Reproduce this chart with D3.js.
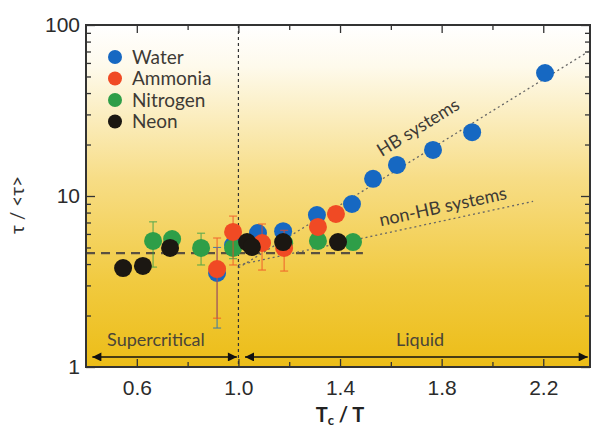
<!DOCTYPE html>
<html>
<head>
<meta charset="utf-8">
<script src="https://cdn.jsdelivr.net/npm/d3@7"></script>
<style>
  html, body { margin: 0; padding: 0; background: #fff; }
  svg { display: block; font-family: Lato, "Open Sans", sans-serif; }
</style>
</head>
<body>
<svg id="chart" width="594" height="430"></svg>
<script>
// Relaxation time ratio vs reduced inverse temperature
const seriesNames = ["Water", "Ammonia", "Nitrogen", "Neon"];
const seriesColors = ["#1668c2", "#f04a24", "#2e9e48", "#1b1712"];

const waterX   = [0.916, 0.979, 1.077, 1.176, 1.309, 1.447, 1.53, 1.624, 1.766, 1.92, 2.207];
const waterY   = [3.55, 5.17, 6.07, 6.23, 7.74, 8.98, 12.6, 15.2, 18.6, 23.6, 52.4];
const waterLo  = [1.69, 4.6, 5.6, 5.7, null, null, null, null, null, null, null];
const waterHi  = [5.0, 5.8, 6.6, 6.8, null, null, null, null, null, null, null];

const ammoniaX  = [0.916, 0.979, 1.093, 1.18, 1.313, 1.384];
const ammoniaY  = [3.74, 6.16, 5.31, 4.97, 6.59, 7.86];
const ammoniaLo = [1.93, 3.95, 3.69, 3.64, 6.2, 7.2];
const ammoniaHi = [5.68, 7.63, 6.86, 6.3, 7.0, 8.5];

const nitrogenX  = [0.664, 0.739, 0.853, 0.979, 1.18, 1.313, 1.451];
const nitrogenY  = [5.46, 5.6, 4.97, 4.97, 5.3, 5.46, 5.38];
const nitrogenLo = [3.84, 5.2, 3.95, 4.3, null, null, null];
const nitrogenHi = [7.06, 6.0, 6.06, 5.6, null, null, null];

const neonX  = [0.546, 0.624, 0.731, 1.034, 1.053, 1.176, 1.392];
const neonY  = [3.79, 3.9, 4.97, 5.38, 5.04, 5.38, 5.38];
const neonLo = [3.5, 3.55, 4.6, null, null, 5.0, null];
const neonHi = [4.1, 4.25, 5.35, null, null, 5.8, null];

const xTickValues = [0.6, 1.0, 1.4, 1.8, 2.2];
const xTickLabels = ["0.6", "1.0", "1.4", "1.8", "2.2"];
const yTickValues = [1, 10, 100];

// Reference lines (data units)
const hbLine    = [[1.0, 3.8], [2.385, 71]];
const nonHbLine = [[1.0, 3.95], [2.16, 9.3]];
const meanLevel = 4.64;
const meanExtent = [0.4, 1.49];
const criticalX = 1.0;
const superRange = [0.425, 0.994];
const liquidRange = [1.026, 2.375];
const arrowLevel = 1.145;

const svg = d3.select("#chart");
const margin = { left: 86, top: 25, right: 4, bottom: 63 };
const W = 594, H = 430;
const x = d3.scaleLinear().domain([0.4, 2.384]).range([margin.left, W - margin.right]);
const y = d3.scaleLog().domain([1, 100]).range([H - margin.bottom, margin.top]);

const defs = svg.append("defs");
const grad = defs.append("linearGradient").attr("id", "bg")
  .attr("x1", 0).attr("y1", 0).attr("x2", 0).attr("y2", 1);
[["0%", "#ffffff"], ["12%", "#fefaec"], ["45%", "#f7dd86"], ["75%", "#f1ca40"], ["100%", "#ecbd17"]]
  .forEach(([o, c]) => grad.append("stop").attr("offset", o).attr("stop-color", c));

defs.append("marker").attr("id", "arrow").attr("viewBox", "0 0 10 10")
  .attr("refX", 10).attr("refY", 5).attr("markerWidth", 13).attr("markerHeight", 9)
  .attr("markerUnits", "userSpaceOnUse").attr("orient", "auto-start-reverse")
  .append("path").attr("d", "M0,0 L10,5 L0,10 Z").attr("fill", "#111");

const x0 = x.range()[0], x1 = x.range()[1];
const y0 = y.range()[0], y1 = y.range()[1];

svg.append("rect").attr("x", x0).attr("y", y1).attr("width", x1 - x0).attr("height", y0 - y1)
  .attr("fill", "url(#bg)");

// Axes: ticks point into the plot
const minorY = [];
[1, 10].forEach(d => { for (let k = 2; k <= 9; k++) minorY.push(d * k); });
const minorX = [0.8, 1.2, 1.6, 2.0];

function addAxis(gen, transform) {
  const g = svg.append("g").attr("transform", transform).call(gen);
  g.select(".domain").remove();
  g.selectAll(".tick line").attr("stroke", "#333").attr("stroke-width", 1.3);
  return g;
}
const lab = g => g.selectAll("text").attr("fill", "#2b2b2b").attr("font-size", 21);

lab(addAxis(d3.axisLeft(y).tickValues(yTickValues).tickFormat(d3.format("d")).tickSize(-9).tickPadding(6), `translate(${x0},0)`));
addAxis(d3.axisLeft(y).tickValues(minorY).tickFormat("").tickSize(-5), `translate(${x0},0)`);
addAxis(d3.axisRight(y).tickValues(yTickValues).tickFormat("").tickSize(-9), `translate(${x1},0)`);
addAxis(d3.axisRight(y).tickValues(minorY).tickFormat("").tickSize(-5), `translate(${x1},0)`);
lab(addAxis(d3.axisBottom(x).tickValues(xTickValues).tickFormat((d, i) => xTickLabels[i]).tickSize(-8).tickPadding(13), `translate(0,${y0})`));
addAxis(d3.axisBottom(x).tickValues(minorX).tickFormat("").tickSize(-5), `translate(0,${y0})`);
addAxis(d3.axisTop(x).tickValues(xTickValues).tickFormat("").tickSize(-8), `translate(0,${y1})`);
addAxis(d3.axisTop(x).tickValues(minorX).tickFormat("").tickSize(-5), `translate(0,${y1})`);

// Critical point divider
svg.append("line").attr("x1", x(criticalX)).attr("x2", x(criticalX)).attr("y1", y1).attr("y2", y0)
  .attr("stroke", "#333").attr("stroke-width", 1.2).attr("stroke-dasharray", "3,3");

// Mean level
svg.append("line").attr("x1", x(meanExtent[0])).attr("x2", x(meanExtent[1]))
  .attr("y1", y(meanLevel)).attr("y2", y(meanLevel))
  .attr("stroke", "#5a5040").attr("stroke-width", 2.2).attr("stroke-dasharray", "9,6");

// Trend lines
const trend = d3.line().x(d => x(d[0])).y(d => y(d[1]));
[hbLine, nonHbLine].forEach(l => svg.append("path").attr("d", trend(l)).attr("fill", "none")
  .attr("stroke", "#666").attr("stroke-width", 1.3).attr("stroke-dasharray", "2,3"));

// Trend labels rotated along the lines
function angleOf(l) {
  return Math.atan2(y(l[1][1]) - y(l[0][1]), x(l[1][0]) - x(l[0][0])) * 180 / Math.PI;
}
svg.append("text").attr("transform", `translate(${x(1.72)},${y(23.5)}) rotate(${angleOf(hbLine)})`)
  .attr("text-anchor", "middle").attr("font-size", 18).attr("fill", "#3d3a35").text("HB systems");
svg.append("text").attr("transform", `translate(${x(1.81)},${y(8.0)}) rotate(${angleOf(nonHbLine)})`)
  .attr("text-anchor", "middle").attr("font-size", 18).attr("fill", "#3d3a35").text("non-HB systems");

// Data: error bars then markers
const groups = [
  { X: waterX, Y: waterY, lo: waterLo, hi: waterHi, c: seriesColors[0] },
  { X: nitrogenX, Y: nitrogenY, lo: nitrogenLo, hi: nitrogenHi, c: seriesColors[2] },
  { X: ammoniaX, Y: ammoniaY, lo: ammoniaLo, hi: ammoniaHi, c: seriesColors[1] },
  { X: neonX, Y: neonY, lo: neonLo, hi: neonHi, c: seriesColors[3] }
];
groups.forEach(s => {
  const pts = s.X.map((v, i) => ({ x: v, y: s.Y[i], lo: s.lo[i], hi: s.hi[i] }));
  const eb = svg.append("g").attr("stroke", s.c).attr("stroke-width", 1.1).attr("opacity", 0.75);
  pts.filter(p => p.lo != null).forEach(p => {
    eb.append("line").attr("x1", x(p.x)).attr("x2", x(p.x)).attr("y1", y(p.lo)).attr("y2", y(p.hi));
    [p.lo, p.hi].forEach(v => eb.append("line").attr("x1", x(p.x) - 4).attr("x2", x(p.x) + 4)
      .attr("y1", y(v)).attr("y2", y(v)));
  });
  svg.append("g").selectAll("circle").data(pts).join("circle")
    .attr("cx", p => x(p.x)).attr("cy", p => y(p.y)).attr("r", 9).attr("fill", s.c);
});

// Legend
const leg = svg.append("g");
seriesNames.forEach((n, i) => {
  leg.append("circle").attr("cx", 115).attr("cy", 57 + i * 21.5).attr("r", 7).attr("fill", seriesColors[i]);
  leg.append("text").attr("x", 132).attr("y", 57 + i * 21.5).attr("dy", "0.36em")
    .attr("font-size", 19).attr("fill", "#3d3a35").text(n);
});

// Regime arrows
[superRange, liquidRange].forEach(r => svg.append("line")
  .attr("x1", x(r[0])).attr("x2", x(r[1])).attr("y1", y(arrowLevel)).attr("y2", y(arrowLevel))
  .attr("stroke", "#111").attr("stroke-width", 1.6)
  .attr("marker-start", "url(#arrow)").attr("marker-end", "url(#arrow)"));
svg.append("text").attr("x", x(0.483)).attr("y", 346).attr("font-size", 18).attr("fill", "#4a4538").text("Supercritical");
svg.append("text").attr("x", x(1.715)).attr("y", 346).attr("text-anchor", "middle").attr("font-size", 18).attr("fill", "#4a4538").text("Liquid");

// Frame
svg.append("rect").attr("x", x0).attr("y", y1).attr("width", x1 - x0).attr("height", y0 - y1)
  .attr("fill", "none").attr("stroke", "#333").attr("stroke-width", 2);

// Axis titles
const yl = svg.append("text").attr("transform", `translate(24,205) rotate(-90)`)
  .attr("text-anchor", "middle").attr("font-size", 19).attr("fill", "#333");
yl.text("τ / <τ>");
const xl = svg.append("text").attr("x", 340).attr("y", 422).attr("text-anchor", "middle")
  .attr("font-size", 20).attr("font-weight", "bold").attr("fill", "#222");
xl.append("tspan").text("T");
xl.append("tspan").attr("font-size", 13).attr("dy", 3).text("c");
xl.append("tspan").attr("dy", -3).text(" / T");
</script>
</body>
</html>
